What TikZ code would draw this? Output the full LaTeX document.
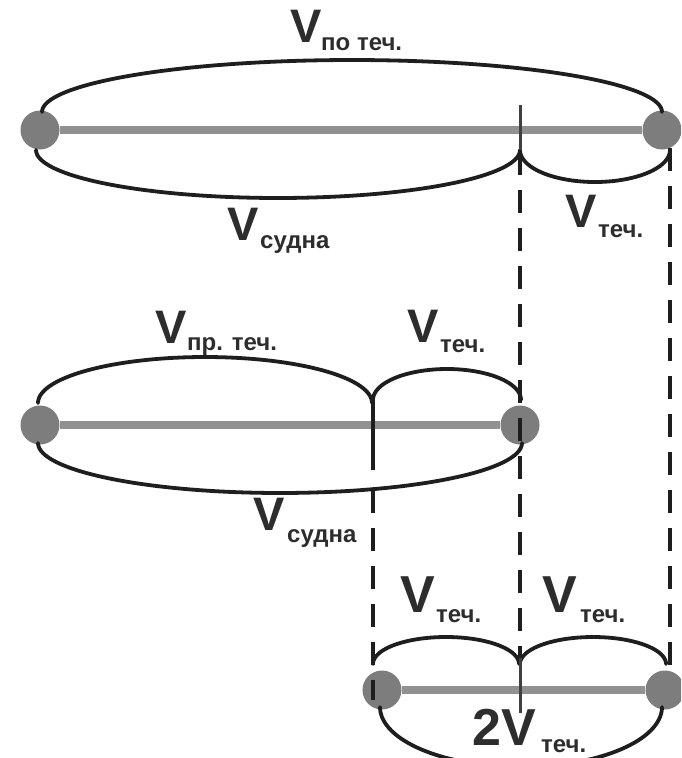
\documentclass[tikz,border=0pt]{standalone}
\usepackage{fontspec}
\setmainfont{Liberation Sans}
\definecolor{bargray}{RGB}{145,145,145}
\definecolor{dotgray}{RGB}{125,125,125}
\definecolor{ink}{RGB}{30,30,30}
\definecolor{textink}{RGB}{45,45,45}
\newcommand\halfarc[6]{\draw[arcline] plot[domain=#5:#6,samples=80] ({#1+#2*cos(\x)},{#3+#4*sin(\x)});}
\begin{document}
\begin{tikzpicture}[x=1pt,y=-1pt,
  arcline/.style={line width=3.8pt, draw=ink, line cap=round},
  bar/.style={line width=8pt, draw=bargray},
  dot/.style={circle, fill=dotgray, minimum size=39pt, inner sep=0pt},
  tickline/.style={line width=3pt, draw=black!75},
  dashline/.style={line width=4.8pt, draw=ink, dash pattern=on 23pt off 15pt},
  vbig/.style={font=\fontsize{47}{50}\selectfont\bfseries, text=textink, inner sep=0pt, anchor=base west},
  vbigger/.style={font=\fontsize{52}{55}\selectfont\bfseries, text=textink, inner sep=0pt, anchor=base west},
  vsub/.style={font=\fontsize{24}{26}\selectfont\bfseries, text=textink, inner sep=0pt, anchor=base west}]
\useasboundingbox (0,0) rectangle (681,758);
\clip (0,0) rectangle (681,758);
\fill[white] (0,0) rectangle (681,758);

% dots
\node[dot] (r1a) at (40,130) {};
\node[dot] (r1b) at (662,130) {};
\node[dot] (r2a) at (40,425) {};
\node[dot] (r2b) at (520,425) {};
\node[dot] (r3a) at (382,690) {};
\node[dot] (r3b) at (665,690) {};

% bars
\draw[bar] (r1a) -- (r1b);
\draw[bar] (r2a) -- (r2b);
\draw[bar] (r3a) -- (r3b);

% row 1 arcs
\halfarc{352}{310}{112}{52}{180}{360}
\halfarc{278}{242}{150}{48}{0}{180}
\halfarc{595}{75}{150}{32}{0}{180}
% row 2 arcs
\halfarc{205}{167}{403}{46}{180}{360}
\halfarc{447}{74}{400}{31}{180}{360}
\halfarc{280}{242}{443}{50}{0}{180}
% row 3 arcs
\halfarc{446}{73}{664}{27}{180}{360}
\halfarc{593}{73}{664}{27}{180}{360}
\halfarc{521}{141}{707}{60}{0}{180}

% ticks
\coordinate (t1a) at (520,105); \coordinate (t1b) at (520,150);
\coordinate (t2a) at (373,398); \coordinate (t2b) at (373,470);
\coordinate (t3a) at (520,658); \coordinate (t3b) at (520,713);
\draw[tickline] (t1a) -- (t1b);
\draw[tickline, draw=ink, line width=3.5pt] (t2a) -- (t2b);
\draw[tickline] (t3a) -- (t3b);

% dashed lines
\coordinate (d1a) at (520,152); \coordinate (d1b) at (520,658);
\coordinate (d2a) at (670,148); \coordinate (d2b) at (670,670);
\coordinate (d3a) at (373,490); \coordinate (d3b) at (373,700);
\draw[dashline] (d1a) -- (d1b);
\draw[dashline] (d2a) -- (d2b);
\draw[dashline] (d3a) -- (d3b);

% labels row 1
\node[vbig] (l1v) at (290,42) {V};
\node[vsub] (l1s) at (321,50) {по теч.};
\node[vbig] (l2v) at (227,240) {V};
\node[vsub] (l2s) at (260,248) {судна};
\node[vbig] (l3v) at (565,227) {V};
\node[vsub] (l3s) at (598,237) {теч.};
% labels row 2
\node[vbig] (l4v) at (155,343) {V};
\node[vsub] (l4s) at (187,350) {пр. теч.};
\node[vbig] (l5v) at (407,342) {V};
\node[vsub] (l5s) at (440,352) {теч.};
\node[vbig] (l6v) at (253,530) {V};
\node[vsub] (l6s) at (287,542) {судна};
% labels row 3
\node[vbigger] (l7v) at (400,612) {V};
\node[vsub] (l7s) at (436,622) {теч.};
\node[vbigger] (l8v) at (542,612) {V};
\node[vsub] (l8s) at (580,622) {теч.};
\node[vbigger] (l9v) at (472,745) {2V};
\node[vsub] (l9s) at (541,752) {теч.};
\end{tikzpicture}
\end{document}
